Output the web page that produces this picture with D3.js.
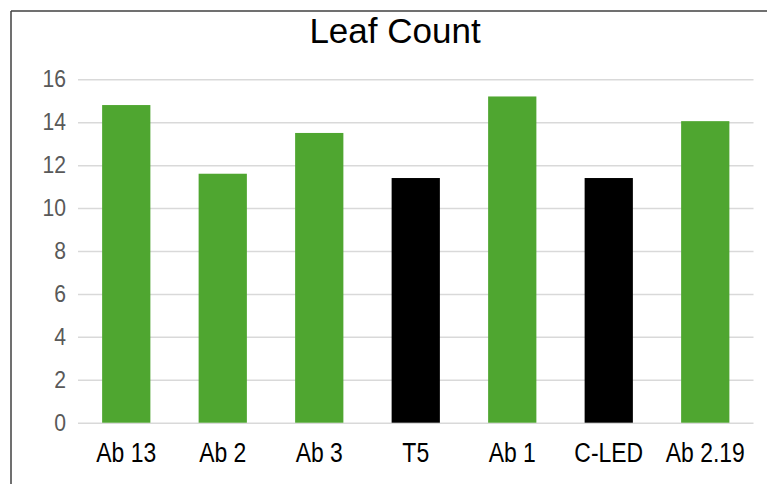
<!DOCTYPE html>
<html>
<head>
<meta charset="utf-8">
<script src="https://cdn.jsdelivr.net/npm/d3@7"></script>
<style>
  html, body { margin: 0; padding: 0; background: #fff; }
  svg { display: block; }
</style>
</head>
<body>
<svg id="chart" width="767" height="484"></svg>
<script>
const title = "Leaf Count";
const categories = ["Ab 13", "Ab 2", "Ab 3", "T5", "Ab 1", "C-LED", "Ab 2.19"];
const values = [14.8, 11.6, 13.5, 11.4, 15.2, 11.4, 14.05];
const barColors = ["#4FA630", "#4FA630", "#4FA630", "#000000", "#4FA630", "#000000", "#4FA630"];
const yTicks = [0, 2, 4, 6, 8, 10, 12, 14, 16];

const svg = d3.select("#chart");
const W = 767, H = 484;
const FONT = "Liberation Sans, Arial, sans-serif";

svg.append("rect").attr("width", W).attr("height", H).attr("fill", "#fff");

// chart frame (top and left edges visible)
svg.append("line").attr("x1", 11).attr("x2", W).attr("y1", 11).attr("y2", 11)
  .attr("stroke", "#404040").attr("stroke-width", 1.5);
svg.append("line").attr("x1", 11).attr("x2", 11).attr("y1", 11).attr("y2", H)
  .attr("stroke", "#404040").attr("stroke-width", 1.5);

const x = d3.scaleBand().domain(categories).range([78, 753.5]).paddingInner(0.5).paddingOuter(0.25);
const y = d3.scaleLinear().domain([0, 16]).range([422.7, 79.3]);

// gridlines + value labels
const yAxis = d3.axisLeft(y).tickValues(yTicks).tickSize(-(753.5 - 78)).tickPadding(13).tickFormat(d3.format("d"));
const gy = svg.append("g").attr("transform", "translate(78,0)").call(yAxis);
gy.select(".domain").remove();
gy.selectAll(".tick line").attr("stroke", "#D9D9D9").attr("stroke-width", 1.5);
gy.selectAll(".tick text")
  .attr("fill", "#595959")
  .attr("font-family", FONT)
  .attr("font-size", 23)
  .attr("transform", "scale(0.92,1)");

// bars
svg.append("g").selectAll("rect").data(values).join("rect")
  .attr("x", (d, i) => x(categories[i]))
  .attr("width", x.bandwidth())
  .attr("y", d => y(d))
  .attr("height", d => y(0) - y(d))
  .attr("fill", (d, i) => barColors[i]);

// category axis
const xAxis = d3.axisBottom(x).tickSize(0).tickPadding(20);
const gx = svg.append("g").attr("transform", `translate(0,${y(0)})`).call(xAxis);
gx.select(".domain").remove();
gx.selectAll(".tick text")
  .attr("fill", "#000")
  .attr("font-family", FONT)
  .attr("font-size", 27)
  .attr("transform", "scale(0.85,1)");

// title
svg.append("text")
  .attr("x", 395).attr("y", 43)
  .attr("text-anchor", "middle")
  .attr("font-family", FONT)
  .attr("font-size", 35)
  .attr("fill", "#000")
  .text(title);
</script>
</body>
</html>
